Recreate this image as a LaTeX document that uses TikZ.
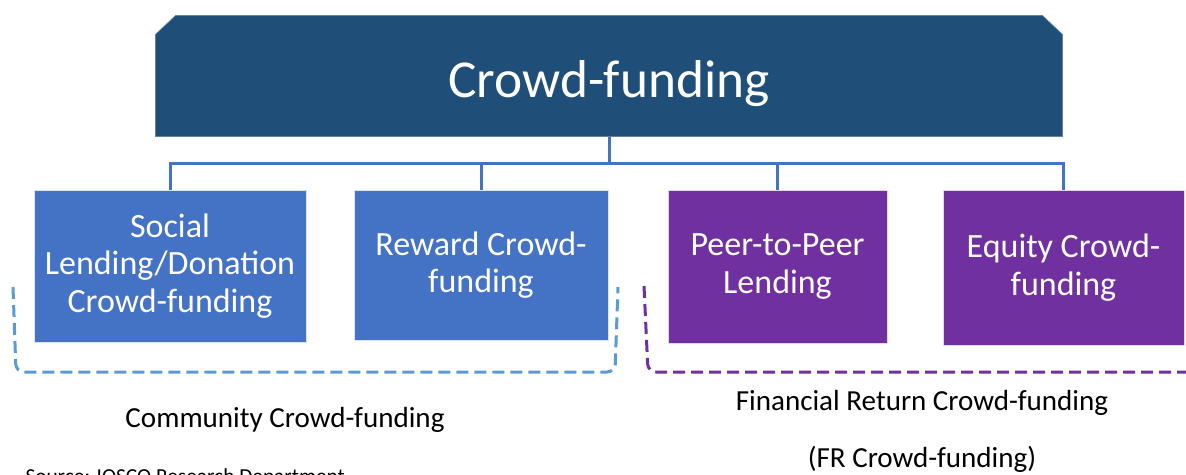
\documentclass[tikz,border=0pt]{standalone}
\usepackage{fontspec}
\setmainfont{Carlito}
\usetikzlibrary{backgrounds}

\definecolor{titleblue}{RGB}{31,78,121}
\definecolor{boxblue}{RGB}{68,114,196}
\definecolor{boxpurple}{RGB}{112,48,160}
\definecolor{dashblue}{RGB}{91,155,213}

\tikzset{every picture/.style={line width=0.75pt}}
\tikzset{
  titlebox/.style={text=white, minimum width=679.5pt, minimum height=90pt, inner sep=0pt,
    text height=33pt, text depth=1.5pt, font=\fontsize{40}{48}\selectfont},
  typebox/.style={fill=#1, draw=white!80!#1, line width=0.75pt, text=white, align=center,
    inner sep=0pt, font=\fontsize{25.5}{28}\selectfont},
  linkline/.style={draw=boxblue, line width=2.25pt},
  groupline/.style={line width=2.25pt, dash pattern=on 9pt off 4.5pt, rounded corners=6pt},
  grouplabel/.style={inner sep=0.75pt, font=\fontsize{21.8}{26}\selectfont}
}

\begin{document}
\begin{tikzpicture}[x=0.75pt,y=0.75pt,yscale=-1,xscale=1]
\useasboundingbox (0,0) rectangle (1186,475);

% Title
\node[titlebox] (crowd) at (609,76) {Crowd-funding};
\begin{scope}[on background layer]
\draw[fill=titleblue, draw=titleblue!70!white] (crowd.south west) -- ([yshift=14.25pt]crowd.north west)
  -- ([xshift=15pt]crowd.north west) -- ([xshift=-15pt]crowd.north east)
  -- ([yshift=14.25pt]crowd.north east) -- (crowd.south east) -- cycle;
\end{scope}

% Four kinds
\node[typebox=boxblue, minimum width=204pt, minimum height=114pt] (social) at (170,266) {Social\\Lending/Donation\\Crowd-funding};
\node[typebox=boxblue, minimum width=190.5pt, minimum height=112.5pt] (reward) at (481,265) {Reward Crowd-\\funding};
\node[typebox=boxpurple, minimum width=164.25pt, minimum height=114.75pt] (peer) at (777.5,266.5) {Peer-to-Peer\\Lending};
\node[typebox=boxpurple, minimum width=180.75pt, minimum height=116.25pt] (equity) at (1063.5,267.5) {Equity Crowd-\\funding};

% Connectors
\coordinate (bus) at (609,163);
\draw[linkline] (crowd.south) -- (bus);
\draw[linkline] (social.north) |- (bus);
\draw[linkline] (reward.north) |- (bus);
\draw[linkline] (peer.north) |- (bus);
\draw[linkline] (equity.north) |- (bus);

% Group brackets
\draw[groupline, draw=dashblue] (13,287) -- (16,372) -- (615,372) -- (618,287);
\draw[groupline, draw=boxpurple] (644,286) -- (648,372) -- (1192,372);

% Group labels
\node[grouplabel, anchor=base] (community) at (285,427) {Community Crowd-funding};
\node[grouplabel, anchor=base] (financial) at (922,410) {Financial Return Crowd-funding};
\node[grouplabel, anchor=base] (fr) at (922,467) {(FR Crowd-funding)};

% Source
\node[inner sep=0pt, anchor=base west, font=\fontsize{16}{19}\selectfont] (source) at (25,483) {Source: IOSCO Research Department};

\end{tikzpicture}
\end{document}
